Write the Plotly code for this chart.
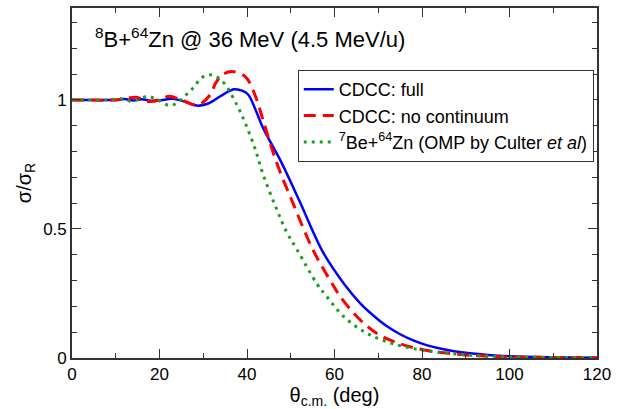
import plotly.graph_objects as go

# CDCC: full
theta_full = [0, 5, 10, 12, 14, 16, 18, 20, 23, 26, 28.5, 31, 34, 37, 39, 40.3, 42, 43.7,
              47.8, 52, 57.2, 62.2, 66, 69, 72, 75, 78, 81, 85.5, 90, 95, 100, 110, 120]
sig_full = [1.0, 1.0, 1.0, 1.003, 0.998, 1.002, 0.997, 0.998, 1.004, 0.992, 0.978, 0.985,
            1.015, 1.041, 1.035, 1.02, 0.96, 0.89, 0.76, 0.608, 0.415, 0.287, 0.21, 0.163,
            0.123, 0.092, 0.068, 0.05, 0.032, 0.02, 0.012, 0.007, 0.003, 0.001]

# CDCC: no continuum
theta_nc = [0, 10, 12, 14.7, 17.5, 20, 22.2, 25, 28.7, 31.6, 32.8, 34.3, 36.5, 39.6, 41.8,
            43.7, 46.7, 50.5, 55.2, 59.5, 61.4, 65.2, 69.7, 75, 80.3, 85, 90, 95, 100, 110, 120]
sig_nc = [1.0, 1.0, 1.004, 1.01, 0.994, 1.0, 1.014, 1.0, 0.98, 1.02, 1.064, 1.096, 1.11,
          1.09, 1.02, 0.92, 0.76, 0.60, 0.415, 0.287, 0.236, 0.159, 0.095, 0.055, 0.032,
          0.02, 0.012, 0.007, 0.004, 0.002, 0.001]

# 7Be+64Zn (OMP)
theta_be = [0, 8, 11.3, 13.2, 15, 17.3, 19.5, 22.5, 24.9, 26.4, 27.9, 29.4, 31.3, 33, 35,
            37.7, 39.6, 41.8, 43.7, 46.7, 49, 51.6, 56, 58, 62.2, 67.5, 73.5, 79.5, 85, 90,
            95, 100, 110, 120]
sig_be = [1.0, 1.0, 1.004, 0.996, 1.0, 1.014, 1.0, 0.978, 1.0, 1.025, 1.05, 1.083, 1.097,
          1.09, 1.06, 0.98, 0.91, 0.813, 0.71, 0.58, 0.49, 0.415, 0.287, 0.243, 0.159, 0.095,
          0.055, 0.032, 0.02, 0.012, 0.007, 0.004, 0.002, 0.001]

x_ticks = [0, 20, 40, 60, 80, 100, 120]
y_ticks = [0, 0.5, 1]
y_tick_text = ["0", "0.5", "1"]

FONT = "Liberation Sans, Arial, sans-serif"

fig = go.Figure()
fig.add_trace(go.Scatter(x=theta_full, y=sig_full, mode="lines", name="CDCC: full",
                         line=dict(color="#0000ff", width=2.5, shape="spline", smoothing=1.0)))
fig.add_trace(go.Scatter(x=theta_nc, y=sig_nc, mode="lines", name="CDCC: no continuum",
                         line=dict(color="#ff0000", width=3, dash="12px,7px", shape="spline", smoothing=1.0)))
fig.add_trace(go.Scatter(x=theta_be, y=sig_be, mode="lines",
                         name="<sup>7</sup>Be+<sup>64</sup>Zn (OMP by Culter <i>et al</i>)",
                         line=dict(color="#1f9f1f", width=3, dash="3px,5px", shape="spline", smoothing=1.0)))

axis_common = dict(showline=True, linecolor="#333333", linewidth=1.6, mirror="ticks",
                   ticks="inside", ticklen=9, tickwidth=1.2, tickcolor="#333333",
                   showgrid=False, zeroline=False,
                   tickfont=dict(family=FONT, size=17, color="black"))

fig.update_xaxes(range=[0, 120], tickvals=x_ticks,
                 minor=dict(ticks="inside", dtick=10, ticklen=5, tickcolor="#333333", tickwidth=1.2),
                 title=dict(text="θ<sub>c.m.</sub> (deg)", font=dict(family=FONT, size=20, color="black"),
                            standoff=0),
                 **axis_common)
fig.update_yaxes(range=[0, 1.356], tickvals=y_ticks, ticktext=y_tick_text,
                 minor=dict(ticks="inside", dtick=0.1, ticklen=5, tickcolor="#333333", tickwidth=1.2),
                 title=dict(text="σ/σ<sub>R</sub>", font=dict(family=FONT, size=20, color="black"),
                            standoff=6),
                 **axis_common)

fig.add_annotation(text="<sup>8</sup>B+<sup>64</sup>Zn @ 36 MeV (4.5 MeV/u)",
                   xref="paper", yref="paper", x=0.04, y=0.915, xanchor="left", yanchor="middle",
                   showarrow=False, font=dict(family=FONT, size=22, color="black"))

fig.update_layout(
    width=617, height=409,
    margin=dict(l=72, r=15, t=6, b=51),
    plot_bgcolor="white", paper_bgcolor="white",
    showlegend=True,
    legend=dict(x=0.43, y=0.823, xanchor="left", yanchor="top",
                bgcolor="white", bordercolor="#333333", borderwidth=1,
                font=dict(family=FONT, size=18, color="black"),
                tracegroupgap=0, itemwidth=30),
)

fig.write_html("out.html", config={"displayModeBar": False},
               post_script="document.body.style.margin='0';document.body.style.padding='0';")
